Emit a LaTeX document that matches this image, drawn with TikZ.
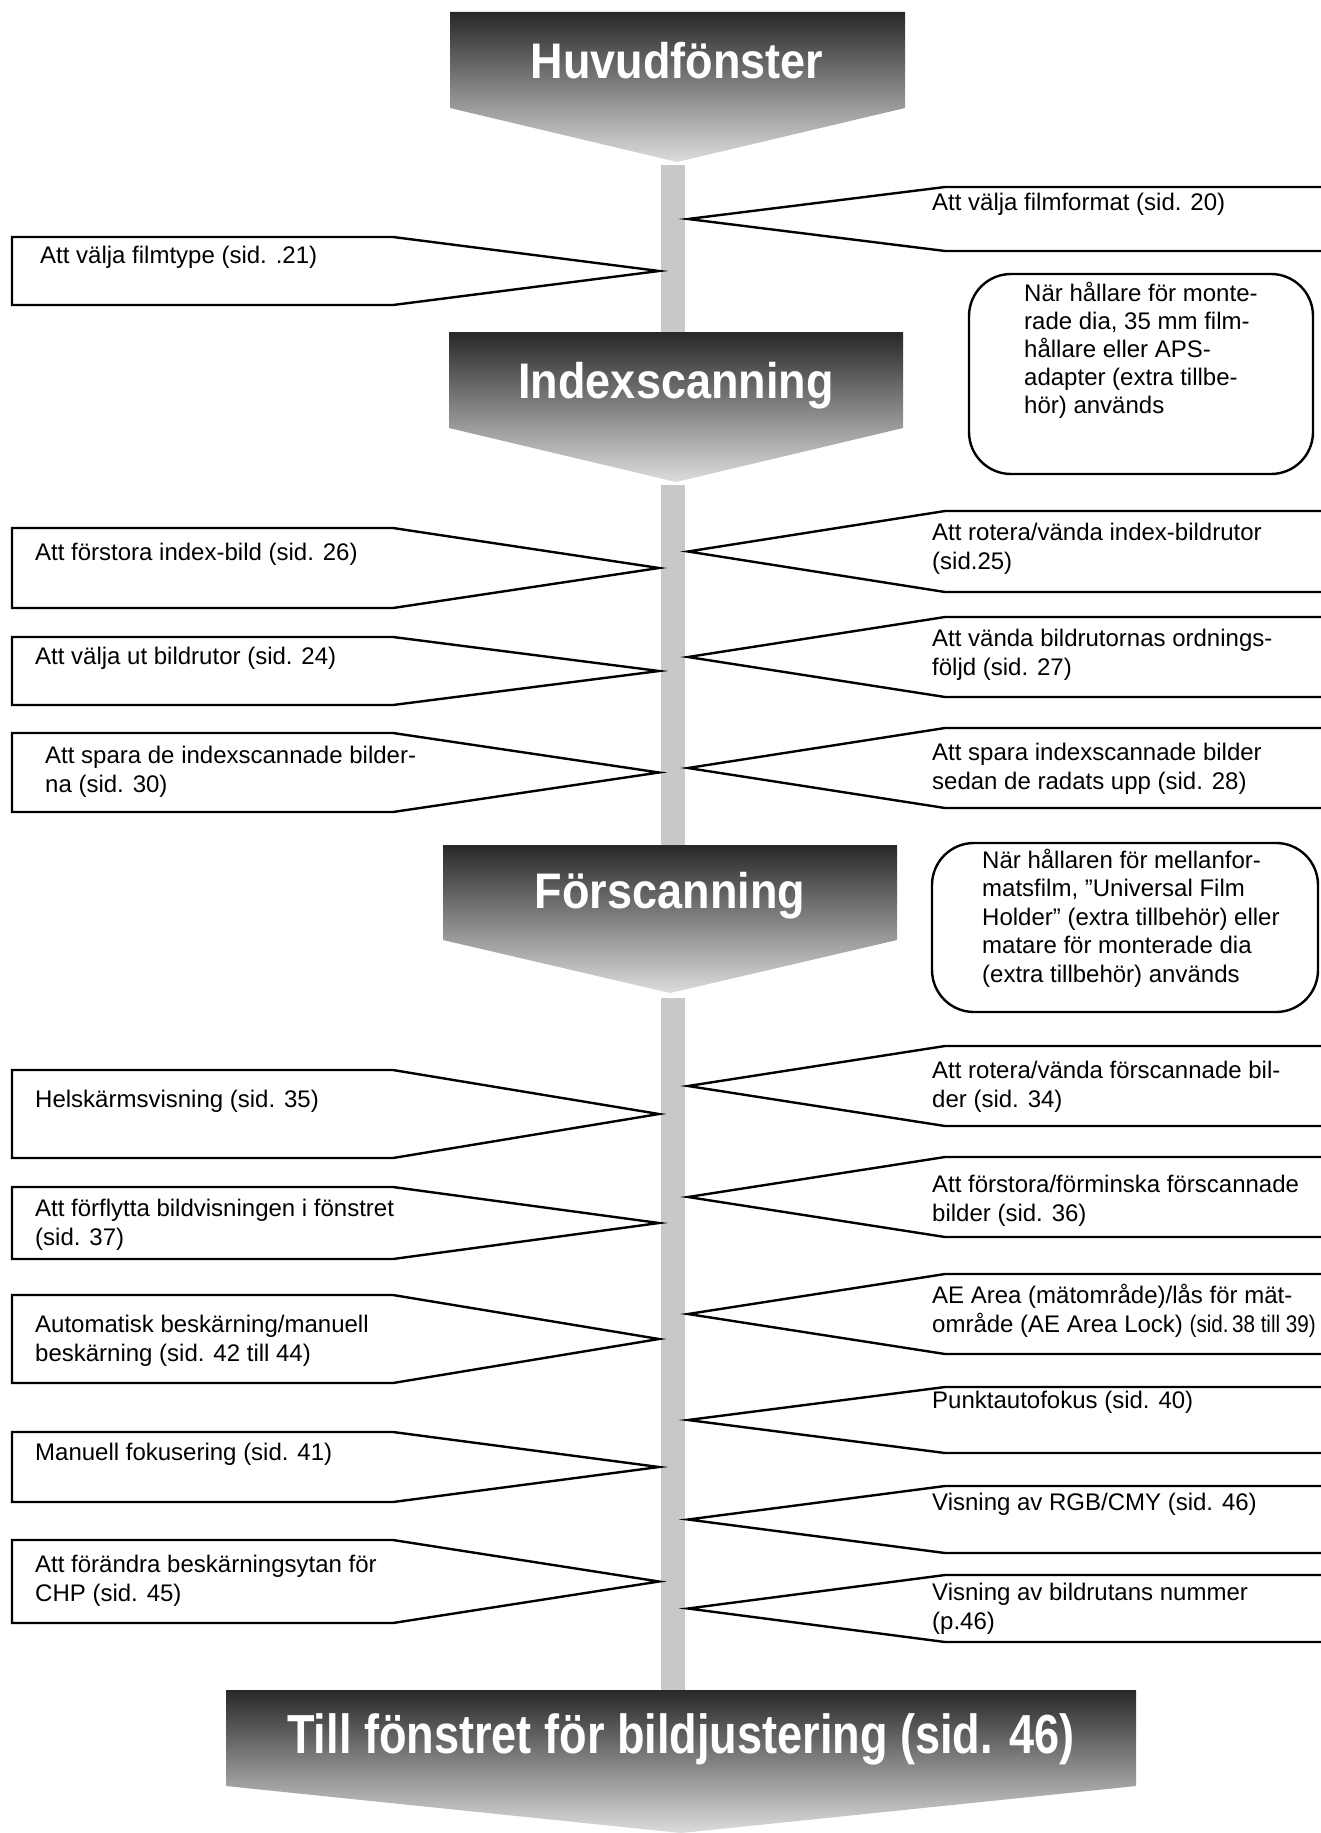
\documentclass[tikz,border=0pt]{standalone}
\usepackage{fontspec}
\usepackage{graphicx}
\setmainfont{Liberation Sans}
\newfontfamily\titlefont[FakeStretch=0.9]{Liberation Sans}
\newfontfamily\tillfont[FakeStretch=0.82]{Liberation Sans}
\definecolor{bargray}{RGB}{200,200,200}
\definecolor{gradtop}{RGB}{40,40,40}
\definecolor{gradbot}{RGB}{220,220,220}
\newcommand\lbox[2]{\draw[arrowbox] (12,#1) -- (393,#1) -- (659,{(#1+#2)/2}) -- (393,#2) -- (12,#2) -- cycle;}
\newcommand\rbox[2]{\draw[arrowbox] (1335,#1) -- (945,#1) -- (688,{(#1+#2)/2}) -- (945,#2) -- (1335,#2);}
\newcommand\txt[4]{\node[txt] (#1) at (#2,{#3-20.3}) {\strut #4};}
\begin{document}
\begin{tikzpicture}[x=1pt,y=-1pt,
  bar/.style={draw=bargray, line width=24pt},
  arrowbox/.style={draw=black, line width=2.4pt, line join=miter},
  note/.style={draw=black, line width=2.4pt, rounded corners=42pt},
  head/.style={top color=gradtop, bottom color=gradbot},
  txt/.style={anchor=north west, inner sep=0pt, align=left, font=\fontsize{24}{29}\selectfont},
  titletxt/.style={anchor=base, inner sep=0pt, text=white, font=\titlefont\bfseries\fontsize{50}{60}\selectfont}]
\useasboundingbox (0,0) rectangle (1321,1833);
\fill[white] (0,0) rectangle (1321,1833);

% vertical bars
\coordinate (b1s) at (673,165); \coordinate (b1e) at (673,340);
\coordinate (b2s) at (673,485); \coordinate (b2e) at (673,850);
\coordinate (b3s) at (673,998); \coordinate (b3e) at (673,1695);
\draw[bar] (b1s) -- (b1e);
\draw[bar] (b2s) -- (b2e);
\draw[bar] (b3s) -- (b3e);

% heading pentagons
\shade[head] (450,12) -- (905,12) -- (905,108) -- (677,162) -- (450,108) -- cycle;
\node[titletxt] (h1) at (677,79) {Huvudfönster};
\shade[head] (449,332) -- (903,332) -- (903,428) -- (676,482) -- (449,428) -- cycle;
\node[titletxt] (h2) at (676,398) {Indexscanning};
\shade[head] (443,845) -- (897,845) -- (897,940) -- (670,993) -- (443,940) -- cycle;
\node[titletxt] (h3) at (670,908) {Förscanning};
\shade[head] (226,1690) -- (1136,1690) -- (1136,1786) -- (681,1833) -- (226,1786) -- cycle;
\node[titletxt, font=\tillfont\bfseries\fontsize{55}{66}\selectfont] (h4) at (681,1753) {Till fönstret för bildjustering (sid. 46)};

% section 1
\rbox{187}{251}
\txt{r1}{932}{210}{Att välja filmformat (sid. 20)}
\lbox{237}{305}
\txt{l1}{40}{263}{Att välja filmtype (sid. .21)}
\draw[note] (969,274) rectangle (1313,474);
\node[txt, font=\fontsize{24}{28}\selectfont] (n1) at (1024,{301-19.6}) {\strut När hållare för monte-\\rade dia, 35 mm film-\\hållare eller APS-\\adapter (extra tillbe-\\hör) används};

% section 2
\lbox{528}{608}
\txt{l2}{35}{560}{Att förstora index-bild (sid. 26)}
\lbox{637}{705}
\txt{l3}{35}{664}{Att välja ut bildrutor (sid. 24)}
\lbox{733}{812}
\txt{l4}{45}{763}{Att spara de indexscannade bilder-\\na (sid. 30)}
\rbox{511}{592}
\txt{r2}{932}{540}{Att rotera/vända index-bildrutor\\(sid.25)}
\rbox{617}{697}
\txt{r3}{932}{646}{Att vända bildrutornas ordnings-\\följd (sid. 27)}
\rbox{728}{808}
\txt{r4}{932}{760}{Att spara indexscannade bilder\\sedan de radats upp (sid. 28)}

\draw[note] (932,843) rectangle (1318,1012);
\node[txt, font=\fontsize{24}{28.5}\selectfont] (n2) at (982,{868-20}) {\strut När hållaren för mellanfor-\\matsfilm, ”Universal Film\\Holder” (extra tillbehör) eller\\matare för monterade dia\\(extra tillbehör) används};

% section 3
\lbox{1070}{1158}
\txt{l5}{35}{1107}{Helskärmsvisning (sid. 35)}
\lbox{1187}{1259}
\txt{l6}{35}{1216}{Att förflytta bildvisningen i fönstret\\(sid. 37)}
\lbox{1295}{1383}
\txt{l7}{35}{1332}{Automatisk beskärning/manuell\\beskärning (sid. 42 till 44)}
\lbox{1432}{1502}
\txt{l8}{35}{1460}{Manuell fokusering (sid. 41)}
\lbox{1540}{1623}
\txt{l9}{35}{1572}{Att förändra beskärningsytan för\\CHP (sid. 45)}

\rbox{1046}{1126}
\txt{r5}{932}{1078}{Att rotera/vända förscannade bil-\\der (sid. 34)}
\rbox{1157}{1237}
\txt{r6}{932}{1192}{Att förstora/förminska förscannade\\bilder (sid. 36)}
\rbox{1274}{1354}
\txt{r7}{932}{1303}{AE Area (mätområde)/lås för mät-\\område (AE Area Lock) \scalebox{0.86}[1]{(sid.\,38 till 39)}}
\rbox{1387}{1453}
\txt{r8}{932}{1408}{Punktautofokus (sid. 40)}
\rbox{1486}{1553}
\txt{r9}{932}{1510}{Visning av RGB/CMY (sid. 46)}
\rbox{1575}{1642}
\txt{r10}{932}{1600}{Visning av bildrutans nummer\\(p.46)}
\end{tikzpicture}
\end{document}
